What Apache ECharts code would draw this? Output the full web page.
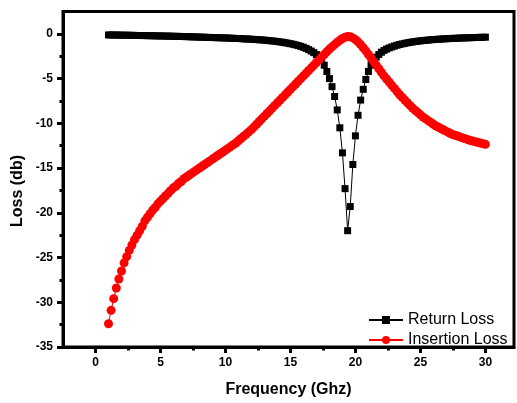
<!DOCTYPE html>
<html>
<head>
<meta charset="utf-8">
<script src="https://cdn.jsdelivr.net/npm/echarts@6/dist/echarts.min.js"></script>
<style>
  html, body { margin: 0; padding: 0; background: #fff; }
  #chart { width: 517px; height: 403px; }
</style>
</head>
<body>
<div id="chart"></div>
<script>
// Frequency points (GHz), one every 0.2 GHz
const freq = [
  1, 1.2, 1.4, 1.6, 1.8, 2, 2.2, 2.4, 2.6, 2.8,
  3, 3.2, 3.4, 3.6, 3.8, 4, 4.2, 4.4, 4.6, 4.8,
  5, 5.2, 5.4, 5.6, 5.8, 6, 6.2, 6.4, 6.6, 6.8,
  7, 7.2, 7.4, 7.6, 7.8, 8, 8.2, 8.4, 8.6, 8.8,
  9, 9.2, 9.4, 9.6, 9.8, 10, 10.2, 10.4, 10.6, 10.8,
  11, 11.2, 11.4, 11.6, 11.8, 12, 12.2, 12.4, 12.6, 12.8,
  13, 13.2, 13.4, 13.6, 13.8, 14, 14.2, 14.4, 14.6, 14.8,
  15, 15.2, 15.4, 15.6, 15.8, 16, 16.2, 16.4, 16.6, 16.8,
  17, 17.2, 17.4, 17.6, 17.8, 18, 18.2, 18.4, 18.6, 18.8,
  19, 19.2, 19.4, 19.6, 19.8, 20, 20.2, 20.4, 20.6, 20.8,
  21, 21.2, 21.4, 21.6, 21.8, 22, 22.2, 22.4, 22.6, 22.8,
  23, 23.2, 23.4, 23.6, 23.8, 24, 24.2, 24.4, 24.6, 24.8,
  25, 25.2, 25.4, 25.6, 25.8, 26, 26.2, 26.4, 26.6, 26.8,
  27, 27.2, 27.4, 27.6, 27.8, 28, 28.2, 28.4, 28.6, 28.8,
  29, 29.2, 29.4, 29.6, 29.8, 30
];

// Return loss (dB)
const returnLoss = [
  -0.12, -0.12, -0.13, -0.13, -0.14, -0.14, -0.15, -0.15, -0.16, -0.16,
  -0.17, -0.18, -0.18, -0.19, -0.19, -0.2, -0.21, -0.21, -0.22, -0.23,
  -0.23, -0.24, -0.25, -0.25, -0.26, -0.27, -0.28, -0.28, -0.29, -0.3,
  -0.31, -0.32, -0.33, -0.34, -0.35, -0.36, -0.37, -0.38, -0.39, -0.4,
  -0.41, -0.42, -0.43, -0.44, -0.45, -0.46, -0.47, -0.48, -0.5, -0.51,
  -0.52, -0.54, -0.55, -0.57, -0.58, -0.6, -0.62, -0.64, -0.66, -0.68,
  -0.7, -0.73, -0.76, -0.79, -0.82, -0.86, -0.9, -0.94, -0.99, -1.04,
  -1.1, -1.16, -1.23, -1.31, -1.4, -1.5, -1.62, -1.76, -1.92, -2.1,
  -2.32, -2.58, -2.95, -3.5, -4.2, -5.0, -5.9, -7.0, -8.5, -10.5,
  -13.3, -17.3, -22.0, -19.3, -14.6, -11.4, -9.1, -7.4, -6.2, -5.1,
  -4.2, -3.5, -3.0, -2.6, -2.3, -2.05, -1.85, -1.7, -1.57, -1.46,
  -1.36, -1.27, -1.19, -1.12, -1.06, -1.0, -0.95, -0.9, -0.86, -0.82,
  -0.78, -0.75, -0.72, -0.69, -0.66, -0.64, -0.62, -0.6, -0.58, -0.56,
  -0.54, -0.53, -0.51, -0.5, -0.49, -0.47, -0.46, -0.45, -0.44, -0.43,
  -0.42, -0.41, -0.4, -0.39, -0.38, -0.37
];

// Insertion loss (dB)
const insertionLoss = [
  -32.4, -30.9, -29.6, -28.4, -27.4, -26.5, -25.6, -24.9, -24.2, -23.6,
  -23.0, -22.5, -22.0, -21.5, -20.9, -20.5, -20.1, -19.7, -19.4, -19.0,
  -18.7, -18.4, -18.1, -17.8, -17.5, -17.2, -17.0, -16.7, -16.5, -16.2,
  -16.0, -15.8, -15.6, -15.4, -15.2, -15.0, -14.8, -14.6, -14.4, -14.2,
  -14.0, -13.8, -13.6, -13.4, -13.2, -13.0, -12.8, -12.6, -12.4, -12.2,
  -11.95, -11.7, -11.45, -11.2, -10.95, -10.7, -10.4, -10.1, -9.8, -9.5,
  -9.2, -8.9, -8.6, -8.3, -8.0, -7.7, -7.4, -7.1, -6.8, -6.5,
  -6.2, -5.9, -5.6, -5.3, -5.0, -4.7, -4.4, -4.1, -3.8, -3.5,
  -3.2, -2.9, -2.6, -2.3, -2.0, -1.7, -1.45, -1.2, -0.95, -0.72,
  -0.52, -0.38, -0.3, -0.32, -0.45, -0.65, -0.9, -1.2, -1.55, -1.9,
  -2.3, -2.7, -3.1, -3.5, -3.9, -4.3, -4.7, -5.05, -5.4, -5.75,
  -6.1, -6.45, -6.8, -7.1, -7.4, -7.7, -8.0, -8.3, -8.55, -8.8,
  -9.05, -9.3, -9.5, -9.7, -9.9, -10.1, -10.3, -10.45, -10.6, -10.75,
  -10.9, -11.05, -11.2, -11.3, -11.4, -11.5, -11.6, -11.7, -11.8, -11.9,
  -11.97, -12.05, -12.12, -12.2, -12.27, -12.35
];

// Tick positions
const xMajorTicks = [0, 5, 10, 15, 20, 25, 30];
const xMinorTicks = [2.5, 7.5, 12.5, 17.5, 22.5, 27.5];
const yMajorTicks = [-35, -30, -25, -20, -15, -10, -5, 0];
const yMinorTicks = [-32.5, -27.5, -22.5, -17.5, -12.5, -7.5, -2.5];

const FONT = '"Liberation Sans", Arial, sans-serif';
const X_MIN = -2.5, X_MAX = 32.2;
const Y_MIN = -35, Y_MAX = 2.5;

const chart = echarts.init(document.getElementById('chart'));

const pairs = (ys) => freq.map((f, i) => [f, ys[i]]);

const majorAxis = {
    axisLine: { show: true, onZero: false, lineStyle: { color: '#000', width: 3 } },
    splitLine: { show: false },
    axisLabel: {
        color: '#000',
        fontFamily: FONT,
        fontWeight: 'bold',
        fontSize: 12,
        margin: 10
    }
};

const option = {
    animation: false,
    backgroundColor: '#fff',
    grid: {
        left: 63,
        right: 3,
        top: 11.5,
        bottom: 54,
        show: true,
        borderColor: '#000',
        borderWidth: 3
    },
    xAxis: [
        {
            ...majorAxis,
            type: 'value',
            min: X_MIN,
            max: X_MAX,
            position: 'bottom',
            axisTick: { customValues: xMajorTicks, length: 6, lineStyle: { color: '#000', width: 3 } },
            axisLabel: { ...majorAxis.axisLabel, customValues: xMajorTicks },
            name: 'Frequency (Ghz)',
            nameLocation: 'middle',
            nameGap: 35,
            nameTextStyle: { color: '#000', fontFamily: FONT, fontWeight: 'bold', fontSize: 16 }
        },
        {
            type: 'value',
            min: X_MIN,
            max: X_MAX,
            position: 'bottom',
            axisLine: { show: false, onZero: false },
            axisTick: { customValues: xMinorTicks, length: 3.5, lineStyle: { color: '#000', width: 3 } },
            axisLabel: { show: false },
            splitLine: { show: false }
        }
    ],
    yAxis: [
        {
            ...majorAxis,
            type: 'value',
            min: Y_MIN,
            max: Y_MAX,
            position: 'left',
            axisTick: { customValues: yMajorTicks, length: 6, lineStyle: { color: '#000', width: 3 } },
            axisLabel: { ...majorAxis.axisLabel, customValues: yMajorTicks }
        },
        {
            type: 'value',
            min: Y_MIN,
            max: Y_MAX,
            position: 'left',
            axisLine: { show: false, onZero: false },
            axisTick: { customValues: yMinorTicks, length: 3.5, lineStyle: { color: '#000', width: 3 } },
            axisLabel: { show: false },
            splitLine: { show: false }
        }
    ],
    graphic: [{
        type: 'text',
        x: 18,
        y: 191,
        rotation: Math.PI / 2,
        style: {
            text: 'Loss (db)',
            fill: '#000',
            font: 'bold 16px ' + FONT,
            textAlign: 'center',
            textVerticalAlign: 'middle'
        }
    }],
    legend: {
        orient: 'vertical',
        left: 368,
        top: 312,
        padding: 0,
        itemWidth: 34,
        itemHeight: 10,
        itemGap: 4,
        textStyle: { color: '#000', fontFamily: FONT, fontSize: 16 },
        data: ['Return Loss', 'Insertion Loss']
    },
    series: [
        {
            name: 'Return Loss',
            type: 'line',
            xAxisIndex: 0,
            yAxisIndex: 0,
            data: pairs(returnLoss),
            symbol: 'rect',
            symbolSize: 7,
            showAllSymbol: true,
            itemStyle: { color: '#000' },
            lineStyle: { color: '#000', width: 1 }
        },
        {
            name: 'Insertion Loss',
            type: 'line',
            xAxisIndex: 0,
            yAxisIndex: 0,
            data: pairs(insertionLoss),
            symbol: 'circle',
            symbolSize: 9,
            showAllSymbol: true,
            itemStyle: { color: '#ff0000' },
            lineStyle: { color: '#ff0000', width: 1 }
        }
    ]
};

chart.setOption(option);
</script>
</body>
</html>
